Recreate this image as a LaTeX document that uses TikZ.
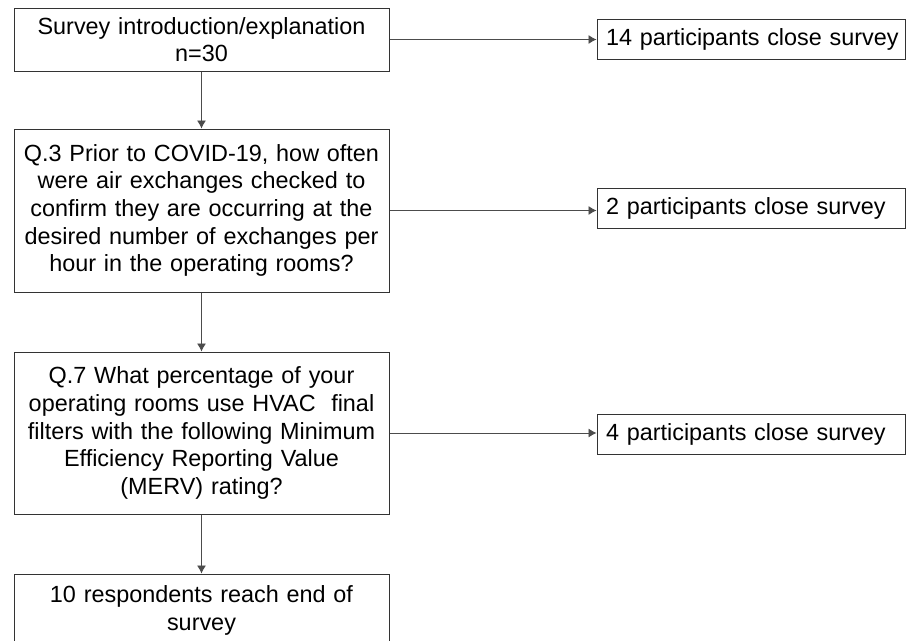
\documentclass[tikz,border=0pt]{standalone}
\usepackage{fontspec}
\setmainfont{Liberation Sans}
\usepackage{tikz}
\usetikzlibrary{shapes, arrows.meta, positioning}

\begin{document}
\begin{tikzpicture}[x=1pt,y=-1pt]
\tikzset{edge/.style = {-{Latex[length=8pt,width=9pt]}, draw=black!70, line width=0.9pt},
         stage/.style = {draw=black!80, line width=1pt, rectangle, align=center,
                         text width=367pt, minimum width=375pt, inner sep=4pt,
                         font=\fontsize{23.4}{27.7}\selectfont},
         exit/.style = {draw=black!80, line width=1pt, rectangle, align=left,
                        text width=290pt, minimum height=40pt, inner sep=9pt,
                        font=\fontsize{23.4}{27}\selectfont}}
\useasboundingbox (0,0) rectangle (912,640);
            % left column
	\node[stage, minimum height=63pt] (intro) at (201.5,39.5) {Survey introduction/explanation\hspace{32pt}\\n=30};
	\node[stage, minimum height=163pt] (q3) at (201.5,210.5) {Q.3 Prior to COVID-19, how often\\were air exchanges checked to\\confirm they are occurring at the\\desired number of exchanges per\\hour in the operating rooms?};
	\node[stage, minimum height=162pt] (q7) at (201.5,433) {Q.7 What percentage of your\\operating rooms use HVAC\ \ final\\filters with the following Minimum\\Efficiency Reporting Value\\(MERV) rating?};
	\node[stage, minimum height=73pt] (end) at (201.5,610.5) {10 respondents reach end of\\survey};
            % right column
	\node[exit] (close1) at (751,39.5) {\mbox{14 participants close survey}};
	\node[exit] (close2) at (751,208) {\mbox{2 participants close survey}};
	\node[exit] (close3) at (751,434) {\mbox{4 participants close survey}};
            %edges
	\draw[edge] (intro) to (q3);
	\draw[edge] (q3) to (q7);
	\draw[edge] (q7) to (end);
	\draw[edge] (intro.east) to (close1.west |- intro.east);
	\draw[edge] (q3.east) to (close2.west |- q3.east);
	\draw[edge] (q7.east) to (close3.west |- q7.east);
\end{tikzpicture}
\end{document}
